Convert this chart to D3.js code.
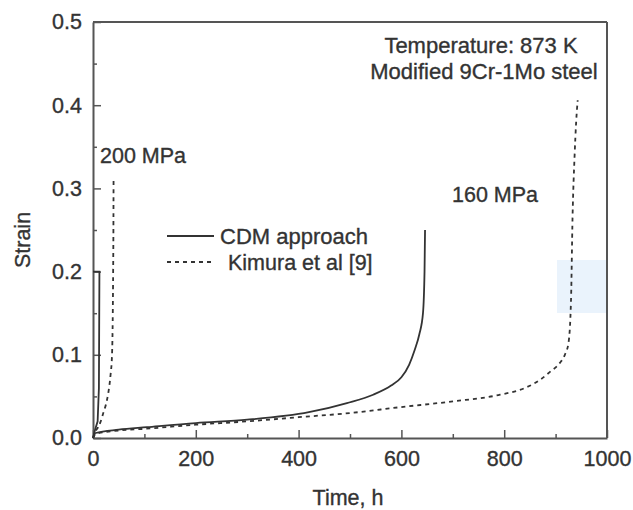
<!DOCTYPE html>
<html>
<head>
<meta charset="utf-8">
<script src="https://cdn.jsdelivr.net/npm/d3@7"></script>
<style>
  html, body { margin: 0; padding: 0; background: #fff; }
  svg text { font-family: "Liberation Sans", Arial, sans-serif; fill: #333; stroke: #333; stroke-width: 0.35px; }
</style>
</head>
<body>
<svg id="chart" width="633" height="510"></svg>
<script>
// Creep curves of modified 9Cr-1Mo steel at 873 K
const xTicks = [0, 200, 400, 600, 800, 1000];
const yTicks = [0.0, 0.1, 0.2, 0.3, 0.4, 0.5];

// 200 MPa, CDM approach
const time200CDM   = [0, 4, 9, 11.5, 12.5, 0];
const strain200CDM = [0, 0.010, 0.020, 0.060, 0.200, 0.200];
// 200 MPa, Kimura et al [9]
const time200Exp   = [0, 5, 10, 15, 20, 25, 30, 34, 37, 38.5, 39.2, 39.7, 40];
const strain200Exp = [0, 0.008, 0.013, 0.020, 0.030, 0.040, 0.055, 0.075, 0.100, 0.150, 0.200, 0.250, 0.310];

// 160 MPa, CDM approach
const time160CDM   = [0, 5, 50, 105, 200, 300, 420, 494, 545, 580, 600, 615, 626, 635, 642, 645, 646];
const strain160CDM = [0, 0.006, 0.010, 0.013, 0.018, 0.022, 0.031, 0.042, 0.052, 0.063, 0.073, 0.088, 0.106, 0.125, 0.150, 0.200, 0.250];
// 160 MPa, Kimura et al [9]
const time160Exp   = [0, 5, 50, 100, 200, 300, 400, 500, 597, 700, 792, 840, 870, 890, 908, 918, 925, 930, 933, 937, 940, 943];
const strain160Exp = [0, 0.005, 0.009, 0.011, 0.016, 0.020, 0.025, 0.030, 0.037, 0.044, 0.052, 0.060, 0.070, 0.080, 0.090, 0.100, 0.114, 0.166, 0.266, 0.340, 0.380, 0.406];

const svg = d3.select("#chart");
const plotLeft = 93, plotRight = 607, plotTop = 22, plotBottom = 438;
const axisColor = "#555";
const inkColor = "#333";

const x = d3.scaleLinear().domain([0, 1000]).range([plotLeft, plotRight]);
const y = d3.scaleLinear().domain([0, 0.5]).range([plotBottom, plotTop]);

// watermark patch
svg.append("rect")
  .attr("x", 557).attr("y", 260).attr("width", 50).attr("height", 53)
  .attr("fill", "#eaf3fc");

// minor ticks
svg.append("g").attr("transform", `translate(0,${plotBottom})`)
  .call(d3.axisBottom(x).tickValues(d3.range(100, 1000, 200)).tickSize(-4).tickFormat(""))
  .call(g => g.select(".domain").remove())
  .call(g => g.selectAll("line").attr("stroke", axisColor).attr("stroke-width", 1.5));
svg.append("g").attr("transform", `translate(${plotLeft},0)`)
  .call(d3.axisLeft(y).tickValues(d3.range(0.05, 0.5, 0.1)).tickSize(-4).tickFormat(""))
  .call(g => g.select(".domain").remove())
  .call(g => g.selectAll("line").attr("stroke", axisColor).attr("stroke-width", 1.5));

// major axes
svg.append("g").attr("transform", `translate(0,${plotBottom})`)
  .call(d3.axisBottom(x).tickValues(xTicks).tickSize(-8).tickSizeOuter(0).tickPadding(13).tickFormat(d3.format("d")))
  .call(g => g.select(".domain").attr("stroke", axisColor).attr("stroke-width", 2))
  .call(g => g.selectAll("line").attr("stroke", axisColor).attr("stroke-width", 1.5))
  .call(g => g.selectAll("text").attr("font-size", 21.5).attr("fill", inkColor));
svg.append("g").attr("transform", `translate(${plotLeft},0)`)
  .call(d3.axisLeft(y).tickValues(yTicks).tickSize(-8).tickSizeOuter(0).tickPadding(11).tickFormat(d3.format(".1f")))
  .call(g => g.select(".domain").attr("stroke", axisColor).attr("stroke-width", 2))
  .call(g => g.selectAll("line").attr("stroke", axisColor).attr("stroke-width", 1.5))
  .call(g => g.selectAll("text").attr("font-size", 21.5).attr("fill", inkColor));

// top and right frame
svg.append("line").attr("x1", plotLeft).attr("x2", plotRight).attr("y1", plotTop).attr("y2", plotTop)
  .attr("stroke", axisColor).attr("stroke-width", 2);
svg.append("line").attr("x1", plotRight).attr("x2", plotRight).attr("y1", plotTop).attr("y2", plotBottom)
  .attr("stroke", axisColor).attr("stroke-width", 2);

const line = (curve) => d3.line().x(d => x(d[0])).y(d => y(d[1])).curve(curve);
const pairs = (t, s) => t.map((v, i) => [v, s[i]]);

const curves = [
  { data: pairs(time200CDM, strain200CDM), dash: null, curve: d3.curveLinear },
  { data: pairs(time200Exp, strain200Exp), dash: "4,4", curve: d3.curveMonotoneX },
  { data: pairs(time160CDM, strain160CDM), dash: null, curve: d3.curveMonotoneX },
  { data: pairs(time160Exp, strain160Exp), dash: "4,4", curve: d3.curveMonotoneX }
];
curves.forEach(c => {
  svg.append("path")
    .attr("d", line(c.curve)(c.data))
    .attr("fill", "none")
    .attr("stroke", inkColor)
    .attr("stroke-width", 1.8)
    .attr("stroke-dasharray", c.dash);
});

// legend
svg.append("line").attr("x1", 167).attr("x2", 214).attr("y1", 236).attr("y2", 236)
  .attr("stroke", inkColor).attr("stroke-width", 1.8);
svg.append("text").attr("x", 220).attr("y", 244).attr("font-size", 22).text("CDM approach");
svg.append("line").attr("x1", 167).attr("x2", 213).attr("y1", 262).attr("y2", 262)
  .attr("stroke", inkColor).attr("stroke-width", 1.8).attr("stroke-dasharray", "4,4");
svg.append("text").attr("x", 228).attr("y", 270).attr("font-size", 21.5).text("Kimura et al [9]");

// annotations
svg.append("text").attr("x", 100).attr("y", 163).attr("font-size", 21.5).text("200 MPa");
svg.append("text").attr("x", 452).attr("y", 202).attr("font-size", 21.5).text("160 MPa");
svg.append("text").attr("x", 481).attr("y", 53).attr("text-anchor", "middle").attr("font-size", 22).text("Temperature: 873 K");
svg.append("text").attr("x", 484).attr("y", 79).attr("text-anchor", "middle").attr("font-size", 22).text("Modified 9Cr-1Mo steel");

// axis titles
svg.append("text").attr("x", 348).attr("y", 505).attr("text-anchor", "middle").attr("font-size", 21.5).text("Time, h");
svg.append("text").attr("transform", "translate(30,240) rotate(-90)").attr("text-anchor", "middle").attr("font-size", 21.5).text("Strain");
</script>
</body>
</html>
